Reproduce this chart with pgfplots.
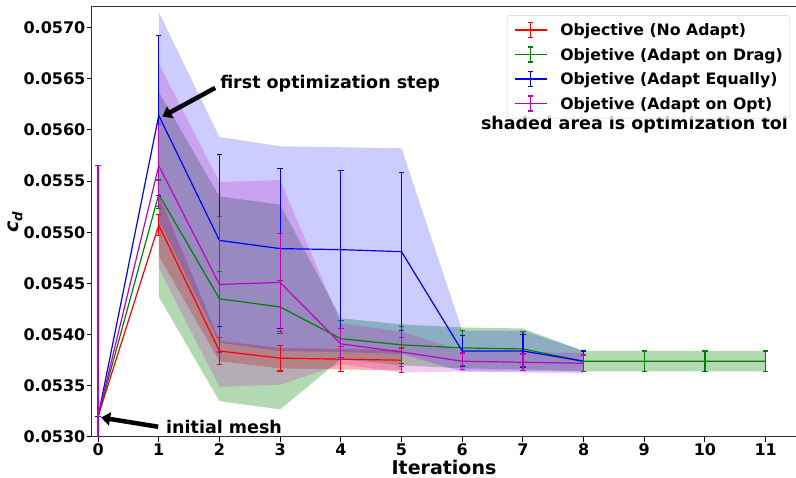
\documentclass[border=0pt]{standalone}
\usepackage{pgfplots}
\pgfplotsset{compat=1.18}
\usepackage{fontspec}
\setmainfont{DejaVu Sans}
\usetikzlibrary{arrows.meta}
\definecolor{mpgreen}{rgb}{0,0.5,0}
\definecolor{mpmag}{rgb}{0.75,0,0.75}
\pgfplotsset{
  errleg/.style={legend image code/.code={
    \draw[line width=1.2pt,##1] (0pt,0pt) -- (32pt,0pt);
    \draw[line width=1.2pt,##1] (16pt,-7.5pt) -- (16pt,7.5pt);
    \draw[line width=1.2pt,##1] (13.3pt,-7.5pt) -- (18.7pt,-7.5pt);
    \draw[line width=1.2pt,##1] (13.3pt,7.5pt) -- (18.7pt,7.5pt);
  }},
  ebar/.style={line width=1.2pt, mark=none,
    error bars/.cd, y dir=both, y explicit,
    error bar style={line width=1.2pt},
    error mark options={rotate=90, line width=1.2pt, mark size=2.7pt}},
}
\begin{document}
\begin{tikzpicture}
\begin{axis}[
  scale only axis, width=704pt, height=430pt,
  xmin=-0.1, xmax=11.5, ymin=0.0530, ymax=0.0572,
  xtick={0,1,2,3,4,5,6,7,8,9,10,11},
  ytick={0.0530,0.0535,0.0540,0.0545,0.0550,0.0555,0.0560,0.0565,0.0570},
  scaled y ticks=false,
  yticklabel style={/pgf/number format/.cd, fixed, fixed zerofill, precision=4},
  /pgf/number format/assume math mode=true,
  tick label style={font=\bfseries\fontsize{16}{16}\selectfont, inner sep=1.5pt},
  tick align=outside, tick pos=left, major tick length=5pt,
  tick style={black, line width=1pt},
  axis line style={line width=1pt, black!80},
  xlabel={Iterations},
  ylabel={\itshape c\textsubscript{d}},
  label style={font=\bfseries\fontsize{19}{19}\selectfont, inner sep=0pt},
  xlabel style={at={(axis description cs:0.5,-0.0698)}, anchor=center},
  ylabel style={at={(axis description cs:-0.1094,0.5)}, anchor=center},
  legend cell align=left,
  legend style={at={(0.9915,0.981)}, anchor=north east,
    draw=black!20, rounded corners=3pt, fill=white, fill opacity=0.8, text opacity=1,
    font=\bfseries\fontsize{15.7}{18}\selectfont,
    inner xsep=7pt, inner ysep=6.5pt, row sep=8.3pt, column sep=13pt,
    nodes={inner sep=0pt, text height=11.5pt, text depth=0pt}},
]
% tolerance bands
\addplot[draw=none, fill=red, fill opacity=0.3, forget plot] coordinates {
 (1,0.05537) (2,0.05394) (3,0.05387) (4,0.05386) (5,0.05385)
 (5,0.05365) (4,0.05366) (3,0.05367) (2,0.05374) (1,0.05477)} -- cycle;
\addplot[draw=none, fill=mpgreen, fill opacity=0.3, forget plot] coordinates {
 (1,0.05637) (2,0.05535) (3,0.05527) (4,0.05416) (5,0.05410) (6,0.05407) (7,0.05406)
 (8,0.05384) (9,0.05384) (10,0.05384) (11,0.05384)
 (11,0.05364) (10,0.05364) (9,0.05364) (8,0.05364) (7,0.05366) (6,0.05367)
 (5,0.05370) (4,0.05376) (3,0.05327) (2,0.05335) (1,0.05437)} -- cycle;
\addplot[draw=none, fill=blue, fill opacity=0.2, forget plot] coordinates {
 (1,0.05715) (2,0.05593) (3,0.05584) (4,0.05583) (5,0.05582) (6,0.05404) (7,0.05404) (8,0.05384)
 (8,0.05364) (7,0.05364) (6,0.05364) (5,0.05381) (4,0.05383) (3,0.05384) (2,0.05392) (1,0.05512)} -- cycle;
\addplot[draw=none, fill=mpmag, fill opacity=0.2, forget plot] coordinates {
 (1,0.05665) (2,0.05549) (3,0.05551) (4,0.05411) (5,0.05403) (6,0.05384) (7,0.05383) (8,0.05382)
 (8,0.05362) (7,0.05363) (6,0.05364) (5,0.05363) (4,0.05371) (3,0.05351) (2,0.05349) (1,0.05465)} -- cycle;
% objective with error bars
\addplot[red, forget plot, ebar] coordinates {
 (0,0.05320) +- (0,0)
 (1,0.05507) +- (0,0.00010)
 (2,0.05384) +- (0,0.000135)
 (3,0.05377) +- (0,0.000125)
 (4,0.05376) +- (0,0.00012)
 (5,0.05375) +- (0,0.00012)};
\addplot[mpgreen, forget plot, ebar] coordinates {
 (0,0.05320) +- (0,0)
 (1,0.05537) +- (0,0.00014)
 (2,0.05435) +- (0,0.00027)
 (3,0.05427) +- (0,0.00026)
 (4,0.05396) +- (0,0.00018)
 (5,0.05390) +- (0,0.00018)
 (6,0.05387) +- (0,0.00017)
 (7,0.05386) +- (0,0.00017)
 (8,0.05374) +- (0,0.00010)
 (9,0.05374) +- (0,0.00010)
 (10,0.05374) +- (0,0.00010)
 (11,0.05374) +- (0,0.00010)};
\addplot[blue, forget plot, ebar] coordinates {
 (0,0.05320) +- (0,0)
 (1,0.05614) +- (0,0.00078)
 (2,0.05492) +- (0,0.00084)
 (3,0.05484) +- (0,0.00078)
 (4,0.05483) +- (0,0.00077)
 (5,0.05481) +- (0,0.00077)
 (6,0.05384) +- (0,0.00015)
 (7,0.05384) +- (0,0.00016)
 (8,0.05374) +- (0,0.00010)};
\addplot[mpmag, forget plot, ebar] coordinates {
 (0,0.05320) +- (0,0.00245)
 (1,0.05565) +- (0,0.00040)
 (2,0.05449) +- (0,0.00066)
 (3,0.05451) +- (0,0.00048)
 (4,0.05391) +- (0,0.00015)
 (5,0.05383) +- (0,0.00014)
 (6,0.05374) +- (0,0.00008)
 (7,0.05373) +- (0,0.00008)
 (8,0.05372) +- (0,0.00008)};
\addlegendimage{errleg, red}
\addlegendentry{Objective (No Adapt)}
\addlegendimage{errleg, mpgreen}
\addlegendentry{Objetive (Adapt on Drag)}
\addlegendimage{errleg, blue}
\addlegendentry{Objetive (Adapt Equally)}
\addlegendimage{errleg, mpmag}
\addlegendentry{Objetive (Adapt on Opt)}
% annotations
\draw[line width=4.5pt, -{Triangle[length=9pt,width=13pt]}] (axis cs:1.93,0.05641) -- (axis cs:1.06,0.05613);
\node[anchor=west, font=\bfseries\fontsize{17.5}{17.5}\selectfont, inner sep=0pt] at (axis cs:2.01,0.05645) {first optimization step};
\draw[line width=4.5pt, -{Triangle[length=9pt,width=13pt]}] (axis cs:0.99,0.05310) -- (axis cs:0.05,0.05319);
\node[anchor=west, font=\bfseries\fontsize{17.5}{17.5}\selectfont, inner sep=0pt] at (axis cs:1.12,0.05310) {initial mesh};
\node[anchor=east, font=\bfseries\fontsize{17.5}{17.5}\selectfont, inner sep=0pt] at (axis cs:11.37,0.05605) {shaded area is optimization tol};
\end{axis}
\pgfresetboundingbox
\useasboundingbox ([xshift=-92pt,yshift=-41pt]current axis.south west) rectangle ([yshift=7pt]current axis.north east);
\end{tikzpicture}
\end{document}
